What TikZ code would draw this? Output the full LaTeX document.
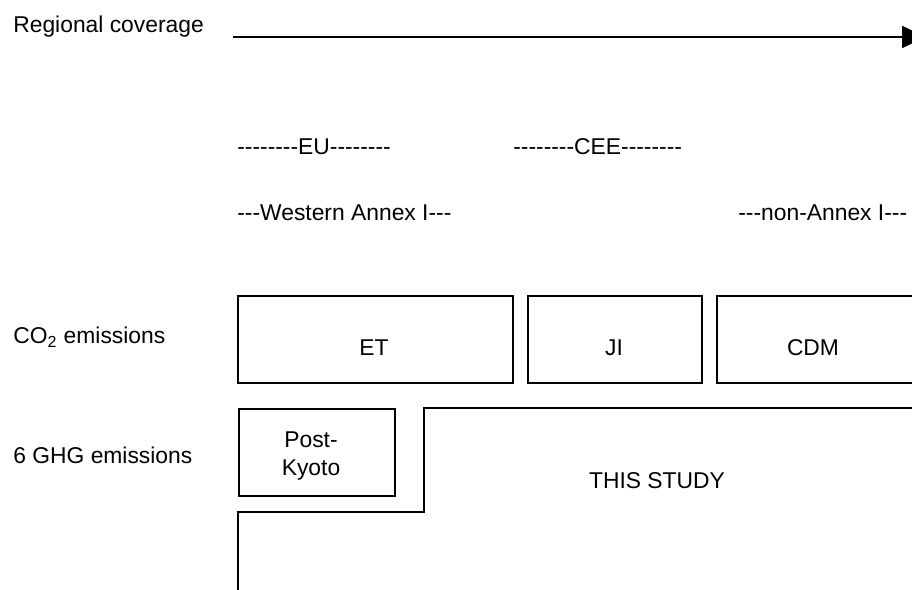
\documentclass[tikz,border=0pt]{standalone}
\usepackage{fontspec}
\setmainfont{Liberation Sans}[Ligatures=TeXOff]
\usepackage{tikz}
\usetikzlibrary{arrows.meta,positioning,calc}
\definecolor{inkblack}{HTML}{000000}
\tikzset{
  rowlabel/.style={anchor=base west, inner sep=0pt, font=\fontsize{13}{16}\selectfont, text=inkblack},
  spanlabel/.style={rowlabel},
  mechbox/.style={draw=inkblack, line width=1pt, anchor=north west, inner sep=0pt,
    minimum height=1.74cm},
  boxtext/.style={anchor=base, inner sep=0pt, align=center,
    font=\fontsize{13}{16}\selectfont, text=inkblack},
  covarrow/.style={-{Triangle[length=0.48cm, width=0.44cm]}, line width=1pt, color=inkblack},
  studyline/.style={line width=1pt, color=inkblack},
}
\begin{document}
\begin{tikzpicture}[x=0.02cm,y=-0.02cm]
  \clip (0,0) rectangle (912,590);
  % row labels
  \node[rowlabel] (cov) at (13,33) {Regional coverage};
  \node[rowlabel] (co2) at (13,344) {CO\textsubscript{2} emissions};
  \node[rowlabel] (ghg) at (13,464) {6 GHG emissions};
  % coverage arrow
  \coordinate (covstart) at (233,37);
  \coordinate (covend) at (926,37);
  \draw[covarrow] (covstart) -- (covend);
  % regions
  \node[spanlabel] (eu) at (237,155) {--------EU--------};
  \node[spanlabel] (cee) at (513,155) {--------CEE--------};
  \node[spanlabel] (west) at (237,221) {---Western Annex I---};
  \node[spanlabel] (nonannex) at (738,221) {---non-Annex I---};
  % flexible mechanisms
  \node[mechbox, minimum width=5.5cm] (et) at (237,295) {};
  \node[mechbox, minimum width=3.48cm] (ji) at (527,295) {};
  \node[mechbox, minimum width=4.6cm] (cdm) at (716,295) {};
  \node[boxtext] (etl) at (374,356) {ET};
  \node[boxtext] (jil) at (614,356) {JI};
  \node[boxtext] (cdml) at (813,356) {CDM};
  % post-kyoto and this study
  \node[mechbox, minimum width=3.12cm] (pk) at (238,408) {};
  \node[boxtext] (pkl) at (311,476) {Post-\\Kyoto};
  \coordinate (sa) at (238,600);
  \coordinate (sb) at (238,512);
  \coordinate (sc) at (424,512);
  \coordinate (sd) at (424,408);
  \coordinate (se) at (930,408);
  \draw[studyline] (sa) -- (sb) -- (sc) -- (sd) -- (se);
  \node[boxtext] (study) at (657,489) {THIS STUDY};
\end{tikzpicture}
\end{document}
